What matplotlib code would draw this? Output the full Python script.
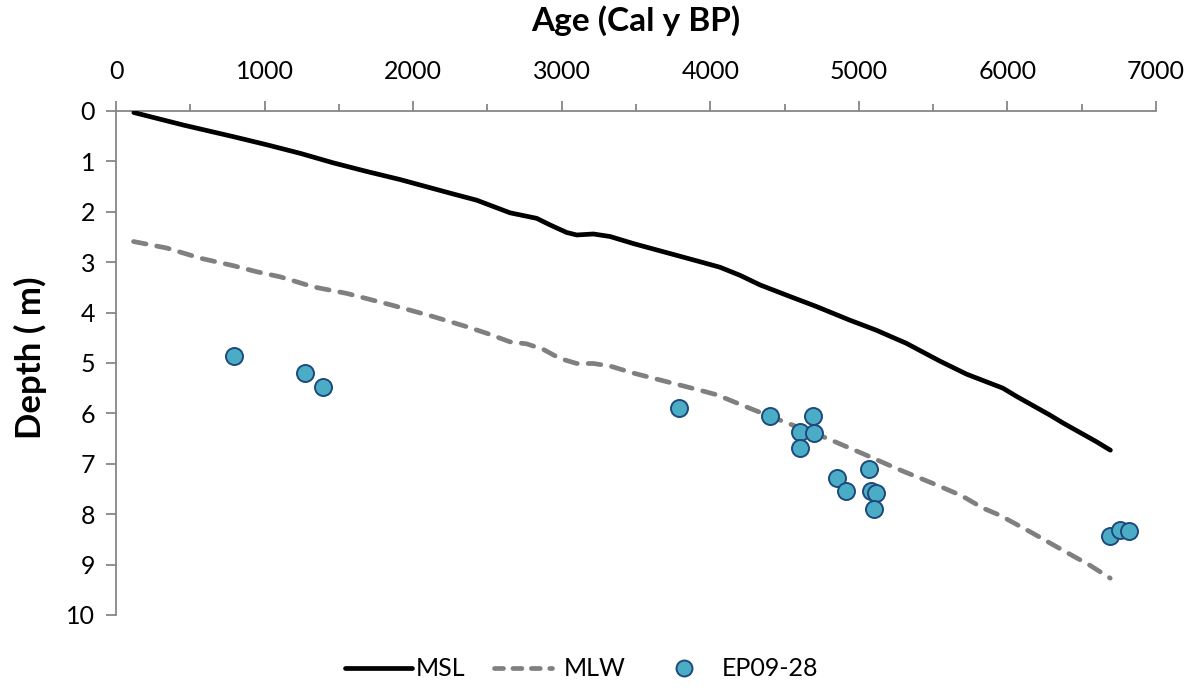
import matplotlib
matplotlib.use("Agg")
import matplotlib.pyplot as plt
from matplotlib.lines import Line2D

# ---- data ----
msl_age = [120, 455, 791, 1015, 1240, 1464, 1688, 1912, 2249, 2428, 2652, 2832, 2921,
           3033, 3101, 3213, 3325, 3482, 3706, 3930, 4065, 4200, 4334, 4536, 4715, 4939,
           5118, 5320, 5544, 5724, 5970, 6060, 6284, 6374, 6598, 6693]
msl_depth = [0.03, 0.28, 0.51, 0.67, 0.84, 1.03, 1.20, 1.36, 1.63, 1.77, 2.02, 2.13, 2.26,
             2.41, 2.46, 2.44, 2.49, 2.63, 2.81, 2.99, 3.10, 3.26, 3.45, 3.68, 3.88, 4.15,
             4.35, 4.61, 4.96, 5.22, 5.50, 5.66, 6.03, 6.19, 6.56, 6.73]

mlw_age = [118, 343, 567, 791, 948, 1105, 1329, 1554, 1867, 2136, 2361, 2495, 2652,
           2764, 2876, 2988, 3101, 3213, 3325, 3482, 3706, 3930, 4043, 4267, 4491,
           4782, 5051, 5275, 5499, 5690, 5836, 5948, 6172, 6351, 6553, 6692]
mlw_depth = [2.59, 2.72, 2.92, 3.07, 3.19, 3.29, 3.49, 3.62, 3.86, 4.08, 4.28, 4.41, 4.58,
             4.62, 4.73, 4.91, 5.01, 5.01, 5.06, 5.20, 5.37, 5.54, 5.63, 5.90, 6.16,
             6.49, 6.83, 7.12, 7.39, 7.63, 7.88, 8.02, 8.38, 8.68, 9.01, 9.27]

ep_age = [791, 1271, 1390, 3789, 4403, 4690, 4601, 4699, 4603, 4850, 4914, 5067,
          5085, 5114, 5101, 6688, 6755, 6816]
ep_depth = [4.87, 5.20, 5.47, 5.89, 6.05, 6.05, 6.37, 6.39, 6.68, 7.28, 7.53, 7.11,
            7.53, 7.57, 7.90, 8.43, 8.31, 8.33]

x_ticks = [0, 1000, 2000, 3000, 4000, 5000, 6000, 7000]
y_ticks = [0, 1, 2, 3, 4, 5, 6, 7, 8, 9, 10]
legend_labels = ['MSL', 'MLW', 'EP09-28']

plt.rcParams['font.family'] = ['Lato', 'DejaVu Sans']

W, H = 1198, 690
fig = plt.figure(figsize=(W / 100, H / 100), dpi=100)
ax = fig.add_axes([116 / W, 1 - 615 / H, (1156 - 116) / W, (615 - 111) / H])

MSL_KW = dict(color='black', lw=3.4, solid_capstyle='round', solid_joinstyle='round')
MLW_KW = dict(color='#808080', lw=3.4, dashes=(2.7, 2.3), dash_capstyle='round')
EP_FACE, EP_EDGE = '#4BACC6', '#1F497D'

ax.plot(msl_age, msl_depth, zorder=3, **MSL_KW)
ax.plot(mlw_age, mlw_depth, zorder=3, **MLW_KW)
ax.scatter(ep_age, ep_depth, s=150, facecolor=EP_FACE, edgecolor=EP_EDGE,
           linewidth=1.4, zorder=4)

ax.set_xlim(0, 7000)
ax.set_ylim(10, 0)
ax.set_xticks(x_ticks)
ax.set_xticks([500, 1500, 2500, 3500, 4500, 5500, 6500], minor=True)
ax.set_yticks(y_ticks)
ax.xaxis.tick_top()
ax.xaxis.set_label_position('top')

for s in ['right', 'bottom']:
    ax.spines[s].set_visible(False)
for s in ['left', 'top']:
    ax.spines[s].set_color('#868686')
    ax.spines[s].set_linewidth(1.3)

ax.tick_params(axis='x', which='major', direction='out', length=7, width=1.3,
               color='#868686', labelsize=18, pad=13)
ax.tick_params(axis='x', which='minor', direction='out', length=5, width=1.3,
               color='#868686')
ax.tick_params(axis='y', which='major', direction='out', length=7, width=1.3,
               color='#868686', labelsize=18, pad=8)

ax.set_xlabel('Age (Cal y BP)', fontsize=24, fontweight='bold', labelpad=21)
ax.set_ylabel('Depth ( m)', fontsize=25, fontweight='bold')
ax.yaxis.set_label_coords(-0.066, 0.51)

# ---- legend (drawn manually to match per-entry spacing) ----
ly = 1 - 668 / H
fig.add_artist(Line2D([345 / W, 412 / W], [ly, ly], transform=fig.transFigure, **MSL_KW))
fig.text(416 / W, ly, legend_labels[0], fontsize=18, va='center', ha='left')
fig.add_artist(Line2D([494 / W, 552 / W], [ly, ly], transform=fig.transFigure,
                      color='#808080', lw=3.4, dashes=(1.9, 2.0), dash_capstyle='round'))
fig.text(564 / W, ly, legend_labels[1], fontsize=18, va='center', ha='left')
fig.add_artist(Line2D([684 / W], [ly], transform=fig.transFigure, ls='none', marker='o',
                      markersize=11.5, markerfacecolor=EP_FACE, markeredgecolor=EP_EDGE,
                      markeredgewidth=1.4))
fig.text(722 / W, ly, legend_labels[2], fontsize=18, va='center', ha='left')

fig.savefig('out.png', dpi=100)
